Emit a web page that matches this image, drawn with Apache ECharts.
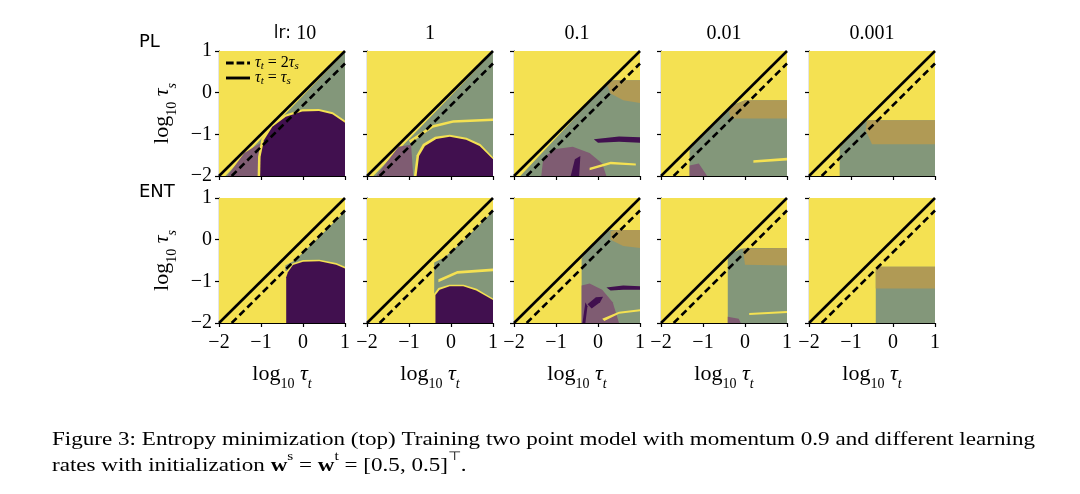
<!DOCTYPE html>
<html>
<head>
<meta charset="utf-8">
<title>Two point model error maps</title>
<script src="https://cdn.jsdelivr.net/npm/echarts@6/dist/echarts.min.js"></script>
<style>
  html, body { margin: 0; padding: 0; background: #fff; }
  #chart { width: 1080px; height: 494px; }
</style>
</head>
<body>
<div id="chart"></div>
<script>
// Column and row labels
const learningRates = ['10', '1', '0.1', '0.01', '0.001'];
const rowLabels = ['PL', 'ENT'];
const errorLabels = ['0%', '50%', '100%'];

// Reference lines in log10 space
const lineEqual = [[-2, -2], [1, 1]];          // tau_t = tau_s
const lineHalf = [[-1.699, -2], [1, 0.699]];   // tau_t = 2 tau_s

// Regions: [kind, polygon in (log10 tau_t, log10 tau_s)]
// Y = 0% error, N = mixed (~50%), S = banded, H = hatched, P = 100% error
const FULL = [[-2, -2], [1, -2], [1, 1], [-2, 1]];

const PL_10 = [
    ['Y', FULL],
    ['N', [[-1.85, -2], [1, 0.97], [1, -2]]],
    ['H', [[-1.8, -2], [-1.4, -1.45], [-1.0, -1.2], [-0.95, -2]]],
    ['Y', [[-1.08, -2], [-1.07, -1.54], [-0.99, -1.11], [-0.77, -0.77], [-0.43, -0.53], [-0.02, -0.4], [0.38, -0.39], [0.71, -0.47], [1, -0.67], [1, -2]]],
    ['P', [[-1.02, -2], [-1.01, -1.54], [-0.93, -1.14], [-0.73, -0.82], [-0.41, -0.58], [-0.02, -0.45], [0.38, -0.44], [0.7, -0.52], [1, -0.72], [1, -2]]]
];
const PL_1 = [
    ['Y', FULL],
    ['N', [[-1.85, -2], [1, 0.97], [1, -2]]],
    ['Y', [[-1.0, -1.15], [-0.45, -0.78], [0.05, -0.66], [1, -0.62], [1, -0.68], [0.05, -0.72], [-0.43, -0.84], [-0.97, -1.21]]],
    ['H', [[-1.78, -2], [-1.25, -1.3], [-0.95, -1.25], [-0.9, -2]]],
    ['Y', [[-0.88, -2], [-0.82, -1.5], [-0.67, -1.23], [-0.38, -1.06], [-0.03, -1.01], [0.37, -1.08], [0.7, -1.23], [1, -1.55], [1, -2]]],
    ['P', [[-0.82, -2], [-0.76, -1.52], [-0.62, -1.28], [-0.35, -1.11], [-0.03, -1.06], [0.36, -1.13], [0.68, -1.28], [1, -1.6], [1, -2]]]
];
const PL_01 = [
    ['Y', FULL],
    ['N', [[-1.85, -2], [0.15, 0.15], [0.35, 0.3], [1, 0.3], [1, -2]]],
    ['S', [[0.2, 0.22], [0.4, 0.3], [1, 0.3], [1, -0.25], [0.6, -0.18], [0.3, -0.02]]],
    ['P', [[-0.1, -1.12], [0.5, -1.05], [1, -1.07], [1, -1.2], [0.5, -1.18], [0.0, -1.2]]],
    ['H', [[-1.35, -2], [-1.3, -1.55], [-1.0, -1.35], [-0.6, -1.3], [-0.2, -1.45], [0.1, -1.7], [0.2, -2]]],
    ['P', [[-0.65, -2], [-0.55, -1.6], [-0.42, -1.52], [-0.45, -2]]],
    ['Y', [[-0.2, -1.8], [0.3, -1.66], [0.9, -1.7], [0.9, -1.75], [0.3, -1.72], [-0.2, -1.86]]]
];
const PL_001 = [
    ['Y', FULL],
    ['N', [[-1.32, -2], [-1.32, -1.36], [-0.25, -0.28], [0, -0.18], [1, -0.18], [1, -2]]],
    ['S', [[-0.3, -0.32], [0, -0.18], [1, -0.18], [1, -0.62], [-0.35, -0.62], [-0.38, -0.45]]],
    ['H', [[-1.32, -2], [-1.32, -1.75], [-1.1, -1.7], [-0.9, -2]]],
    ['Y', [[0.2, -1.62], [1, -1.56], [1, -1.63], [0.2, -1.68]]]
];
const PL_0001 = [
    ['Y', FULL],
    ['N', [[-1.27, -2], [-1.27, -1.32], [-1.05, -1.08], [-0.78, -0.8], [-0.6, -0.66], [1, -0.66], [1, -2]]],
    ['S', [[-0.62, -0.68], [-0.5, -0.66], [1, -0.66], [1, -1.24], [-0.5, -1.24], [-0.65, -0.9]]]
];
const ENT_10 = [
    ['Y', FULL],
    ['N', [[-0.42, -0.62], [-0.2, -0.5], [0.3, -0.02], [1, 0.68], [1, -0.75], [-0.42, -0.75]]],
    ['Y', [[-0.44, -2], [-0.44, -0.89], [-0.39, -0.75], [-0.25, -0.57], [0, -0.49], [0.39, -0.48], [0.79, -0.56], [1, -0.65], [1, -2]]],
    ['P', [[-0.4, -2], [-0.4, -0.9], [-0.36, -0.78], [-0.24, -0.61], [0, -0.53], [0.39, -0.52], [0.79, -0.6], [1, -0.69], [1, -2]]]
];
const ENT_1 = [
    ['Y', FULL],
    ['N', [[-0.4, -1.35], [-0.4, -0.55], [-0.15, -0.42], [0.3, -0.02], [1, 0.68], [1, -1.45]]],
    ['Y', [[-0.3, -0.95], [0.15, -0.75], [1, -0.69], [1, -0.76], [0.15, -0.82], [-0.3, -1.02]]],
    ['Y', [[-0.41, -2], [-0.41, -1.31], [-0.3, -1.16], [-0.04, -1.08], [0.3, -1.08], [0.61, -1.18], [1, -1.41], [1, -2]]],
    ['P', [[-0.37, -2], [-0.37, -1.33], [-0.27, -1.2], [-0.03, -1.12], [0.29, -1.12], [0.6, -1.22], [1, -1.45], [1, -2]]]
];
const ENT_01 = [
    ['Y', FULL],
    ['N', [[-0.39, -2], [-0.39, -0.45], [-0.32, -0.34], [0.2, 0.18], [0.3, 0.23], [1, 0.23], [1, -2]]],
    ['S', [[0.3, 0.2], [0.4, 0.23], [1, 0.23], [1, -0.2], [0.6, -0.15], [0.3, 0.0]]],
    ['H', [[-0.39, -2], [-0.39, -1.1], [-0.2, -1.05], [0.1, -1.2], [0.35, -1.5], [0.5, -2]]],
    ['P', [[-0.25, -1.55], [-0.05, -1.38], [0.12, -1.37], [0.05, -1.5], [-0.15, -1.65]]],
    ['P', [[-0.37, -2], [-0.3, -1.5], [-0.25, -1.6], [-0.3, -2]]],
    ['P', [[0.2, -1.15], [0.6, -1.1], [1, -1.12], [1, -1.2], [0.6, -1.2], [0.3, -1.22]]],
    ['Y', [[0.1, -1.9], [0.5, -1.73], [1, -1.67], [1, -1.72], [0.5, -1.78], [0.15, -1.95]]]
];
const ENT_001 = [
    ['Y', FULL],
    ['N', [[-0.41, -2], [-0.41, -0.45], [-0.33, -0.34], [-0.1, -0.22], [0.1, -0.2], [1, -0.2], [1, -2]]],
    ['S', [[-0.05, -0.22], [1, -0.2], [1, -0.62], [0.0, -0.6]]],
    ['Y', [[0.1, -1.76], [1, -1.71], [1, -1.76], [0.1, -1.81]]],
    ['H', [[-0.41, -2], [-0.41, -1.85], [-0.15, -1.9], [-0.1, -2]]]
];
const ENT_0001 = [
    ['Y', FULL],
    ['N', [[-0.41, -2], [-0.41, -0.7], [-0.36, -0.65], [1, -0.65], [1, -2]]],
    ['S', [[-0.41, -0.7], [-0.36, -0.65], [1, -0.65], [1, -1.17], [-0.41, -1.17]]]
];

const panels = [PL_10, PL_1, PL_01, PL_001, PL_0001, ENT_10, ENT_1, ENT_01, ENT_001, ENT_0001];

// Colours (viridis ends + blended textures)
const FILL = { Y: '#f4e152', N: '#83977a', S: '#b09a55', H: '#7f5c72', P: '#41104f' };
const LEGEND_FILL = ['#f4e152', '#3d8f8a', '#41104f'];

const SERIF = '"Liberation Serif", "DejaVu Serif", serif';
const SANS = '"DejaVu Sans", "Liberation Sans", sans-serif';

// Layout
const colLeft = [219, 367, 514, 661, 809];
const rowTop = [51, 198];
const PW = 126, PH = 125;

const mathRich = {
    m: { fontFamily: SERIF, fontSize: 22, color: '#000', lineHeight: 24, verticalAlign: 'middle' },
    i: { fontFamily: SERIF, fontSize: 22, fontStyle: 'italic', color: '#000', lineHeight: 24, verticalAlign: 'middle' },
    sub: { fontFamily: SERIF, fontSize: 14, color: '#000', lineHeight: 34, verticalAlign: 'bottom' },
    subi: { fontFamily: SERIF, fontSize: 14, fontStyle: 'italic', color: '#000', lineHeight: 34, verticalAlign: 'bottom' }
};

function minusFmt(v) {
    return v < 0 ? '\u2212' + Math.abs(v) : String(v);
}

function polygonRenderer(regions) {
    return function (params, api) {
        const reg = regions[params.dataIndex];
        return {
            type: 'polygon',
            shape: { points: reg[1].map(p => api.coord(p)) },
            style: { fill: FILL[reg[0]] },
            silent: true
        };
    };
}

const grids = [], xAxes = [], yAxes = [], series = [];

panels.forEach((regions, i) => {
    const row = Math.floor(i / 5), col = i % 5;
    grids.push({ left: colLeft[col], top: rowTop[row], width: PW, height: PH });

    xAxes.push({
        gridIndex: i, type: 'value', min: -2, max: 1, interval: 1,
        axisLine: { show: true, onZero: false, lineStyle: { color: '#000', width: 1.2 } },
        axisTick: { show: true, length: 4, lineStyle: { color: '#000', width: 1.2 } },
        axisLabel: { show: row === 1, formatter: minusFmt, fontFamily: SERIF, fontSize: 20, color: '#000', margin: 10 },
        splitLine: { show: false },
        name: row === 1 ? '{m|log}{sub|10}{m| }{i|τ}{subi|t}' : '',
        nameLocation: 'middle', nameGap: 34,
        nameTextStyle: { rich: mathRich }
    });

    yAxes.push({
        gridIndex: i, type: 'value', min: -2, max: 1, interval: 1,
        axisLine: { show: true, onZero: false, lineStyle: { color: '#000', width: 1.2 } },
        axisTick: { show: true, length: 4, lineStyle: { color: '#000', width: 1.2 } },
        axisLabel: { show: col === 0, formatter: minusFmt, fontFamily: SERIF, fontSize: 20, color: '#000', margin: 7 },
        splitLine: { show: false },
        name: col === 0 ? '{m|log}{sub|10}{m| }{i|τ}{subi|s}' : '',
        nameLocation: 'middle', nameGap: 40, nameRotate: 90,
        nameTextStyle: { rich: mathRich }
    });

    series.push({
        type: 'custom',
        xAxisIndex: i, yAxisIndex: i,
        renderItem: polygonRenderer(regions),
        data: regions.map(r => r[1][0]),
        silent: true,
        z: 1
    });

    series.push({
        name: 'equal', type: 'line', xAxisIndex: i, yAxisIndex: i,
        data: lineEqual, symbol: 'none', silent: true, z: 5,
        itemStyle: { color: '#000' },
        lineStyle: { color: '#000', width: 2.6 }
    });
    series.push({
        name: 'half', type: 'line', xAxisIndex: i, yAxisIndex: i,
        data: lineHalf, symbol: 'none', silent: true, z: 5,
        itemStyle: { color: '#000' },
        lineStyle: { color: '#000', width: 2.6, type: [7, 4] }
    });
});

// Text around the panels
const graphics = [];

learningRates.forEach((lr, col) => {
    const cx = colLeft[col] + PW / 2 + (col === 0 ? 13 : 0);
    graphics.push({
        type: 'text', x: cx, y: 34,
        style: {
            text: col === 0 ? '{s|lr: }{n|' + lr + '}' : '{n|' + lr + '}',
            align: 'center', verticalAlign: 'middle',
            rich: {
                s: { fontFamily: SANS, fontSize: 17, color: '#000' },
                n: { fontFamily: SERIF, fontSize: 20, color: '#000' }
            }
        }
    });
});

rowLabels.forEach((lbl, row) => {
    graphics.push({
        type: 'text', x: 139, y: row === 0 ? 42 : 192,
        style: { text: lbl, fontFamily: SANS, fontSize: 18, fill: '#000', verticalAlign: 'middle' }
    });
});

// Error legend inside ENT / lr 10
graphics.push({
    type: 'text', x: 240, y: 206,
    style: { text: 'Error', fontFamily: SANS, fontSize: 13, fill: '#000', verticalAlign: 'middle' }
});
errorLabels.forEach((lbl, k) => {
    const y = 220 + k * 9.3;
    graphics.push({
        type: 'rect', shape: { x: 224, y: y - 3.5, width: 13, height: 7 },
        style: { fill: LEGEND_FILL[k], stroke: k === 0 ? '#000' : null, lineWidth: 0.8 }
    });
    graphics.push({
        type: 'text', x: 247, y: y,
        style: { text: lbl, fontFamily: SERIF, fontSize: 14, fill: '#000', verticalAlign: 'middle' }
    });
});

// Caption, stretched to the reference line width
const captionFont = '18px "Liberation Serif"';
const caption1 = 'Figure 3: Entropy minimization (top) Training two point model with momentum 0.9 and different learning';
const ctx = document.createElement('canvas').getContext('2d');
ctx.font = captionFont;
const capScale = 983 / ctx.measureText(caption1).width;

graphics.push({
    type: 'text', x: 52, y: 440, scaleX: capScale,
    style: { text: caption1, fontFamily: '"Liberation Serif"', fontSize: 18, fill: '#000', verticalAlign: 'middle' }
});
graphics.push({
    type: 'text', x: 52, y: 466, scaleX: capScale,
    style: {
        text: '{n|rates with initialization }{b|w}{sup|s}{n| = }{b|w}{sup|t}{n| = [0.5, 0.5]}{sup|⊤}{n|.}',
        verticalAlign: 'middle',
        rich: {
            n: { fontFamily: '"Liberation Serif"', fontSize: 18, color: '#000', lineHeight: 20, verticalAlign: 'middle' },
            b: { fontFamily: '"Liberation Serif"', fontSize: 18, fontWeight: 'bold', color: '#000', lineHeight: 20, verticalAlign: 'middle' },
            sup: { fontFamily: '"Liberation Serif"', fontSize: 12, color: '#000', lineHeight: 30, verticalAlign: 'top' }
        }
    }
});

const chart = echarts.init(document.getElementById('chart'), null, { renderer: 'canvas' });

chart.setOption({
    backgroundColor: '#fff',
    animation: false,
    grid: grids,
    xAxis: xAxes,
    yAxis: yAxes,
    legend: {
        left: 221, top: 50, orient: 'vertical',
        itemWidth: 24, itemHeight: 3, itemGap: -2,
        data: [
            { name: 'half', icon: 'path://M0,0H8V3H0Z M11,0H19V3H11Z M22,0H25V3H22Z' },
            { name: 'equal', icon: 'path://M0,0H25V3H0Z' }
        ],
        itemStyle: { color: '#000' },
        selectedMode: false,
        formatter: name => name === 'half'
            ? '{i|τ}{sub|t}{m| = 2}{i|τ}{sub|s}'
            : '{i|τ}{sub|t}{m| = }{i|τ}{sub|s}',
        textStyle: {
            rich: {
                i: { fontFamily: SERIF, fontStyle: 'italic', fontSize: 16, color: '#000', lineHeight: 13, verticalAlign: 'middle' },
                m: { fontFamily: SERIF, fontSize: 16, color: '#000', lineHeight: 13, verticalAlign: 'middle' },
                sub: { fontFamily: SERIF, fontStyle: 'italic', fontSize: 11, color: '#000', lineHeight: 18, verticalAlign: 'bottom' }
            }
        }
    },
    graphic: graphics,
    series: series
});

window.addEventListener('resize', () => chart.resize());
</script>
</body>
</html>
